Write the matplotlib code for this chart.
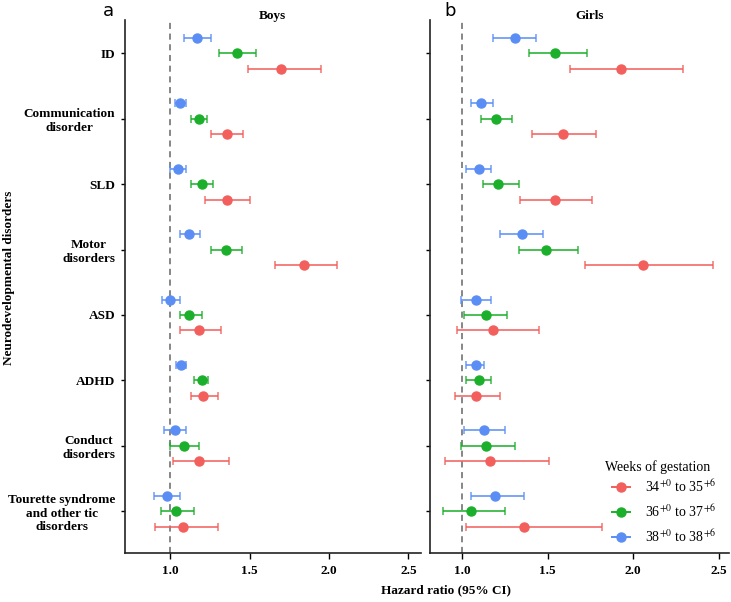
import matplotlib
matplotlib.use('Agg')
import matplotlib.pyplot as plt
from matplotlib.lines import Line2D

plt.rcParams['font.family'] = ['Liberation Serif', 'DejaVu Serif']
plt.rcParams['mathtext.fontset'] = 'stix'

categories = ['ID', 'Communication\ndisorder', 'SLD', 'Motor\ndisorders', 'ASD',
              'ADHD', 'Conduct\ndisorders', 'Tourette syndrome\nand other tic\ndisorders']
groups = ['34$^{+0}$ to 35$^{+6}$', '36$^{+0}$ to 37$^{+6}$', '38$^{+0}$ to 38$^{+6}$']
colors = ['#F25F5C', '#1CAF2B', '#5B8EF5']

# chłopcy (Boys)
boys_34 = [1.70, 1.36, 1.36, 1.84, 1.18, 1.21, 1.18, 1.08]
boys_34_lo = [1.49, 1.26, 1.22, 1.66, 1.06, 1.13, 1.02, 0.905]
boys_34_hi = [1.95, 1.46, 1.50, 2.05, 1.32, 1.30, 1.37, 1.30]
boys_36 = [1.42, 1.18, 1.20, 1.35, 1.12, 1.20, 1.09, 1.04]
boys_36_lo = [1.31, 1.13, 1.13, 1.26, 1.06, 1.15, 1.00, 0.94]
boys_36_hi = [1.54, 1.23, 1.27, 1.45, 1.20, 1.24, 1.18, 1.15]
boys_38 = [1.17, 1.06, 1.05, 1.12, 1.00, 1.07, 1.03, 0.98]
boys_38_lo = [1.09, 1.03, 1.00, 1.06, 0.95, 1.04, 0.96, 0.90]
boys_38_hi = [1.26, 1.10, 1.10, 1.19, 1.06, 1.10, 1.10, 1.06]

# dziewczynki (Girls)
girls_34 = [1.93, 1.59, 1.54, 2.06, 1.18, 1.08, 1.16, 1.36]
girls_34_lo = [1.63, 1.41, 1.34, 1.72, 0.97, 0.96, 0.90, 1.02]
girls_34_hi = [2.29, 1.78, 1.76, 2.47, 1.45, 1.22, 1.51, 1.82]
girls_36 = [1.54, 1.20, 1.21, 1.49, 1.14, 1.10, 1.14, 1.05]
girls_36_lo = [1.39, 1.11, 1.12, 1.33, 1.01, 1.02, 0.99, 0.89]
girls_36_hi = [1.73, 1.29, 1.33, 1.68, 1.26, 1.17, 1.31, 1.25]
girls_38 = [1.31, 1.11, 1.10, 1.35, 1.08, 1.08, 1.13, 1.19]
girls_38_lo = [1.18, 1.05, 1.02, 1.22, 0.99, 1.02, 1.01, 1.05]
girls_38_hi = [1.43, 1.18, 1.17, 1.47, 1.17, 1.13, 1.25, 1.36]

xticks = [1.0, 1.5, 2.0, 2.5]
offsets = [0.235, 0.0, -0.235]


def rysuj_panel(ax, series, xlim, labels=True):
    for (hr, lo, hi), off, col in zip(series, offsets, colors):
        y = [i + off for i in range(len(categories))]
        err = [[h - l for h, l in zip(hr, lo)], [u - h for h, u in zip(hr, hi)]]
        ax.errorbar(hr, y, xerr=err, fmt='none', ecolor=col, elinewidth=1.4,
                    capsize=3.2, capthick=1.2, alpha=0.8)
        ax.plot(hr, y, 'o', color=col, markersize=6.5, zorder=3)
    ax.axvline(1.0, color='#666666', linestyle=(0, (4, 3)), linewidth=1.1, zorder=0)
    ax.set_xlim(*xlim)
    ax.set_ylim(len(categories) - 1 + 0.64, -0.51)
    ax.set_xticks(xticks)
    ax.set_xticklabels([f'{t:.1f}' for t in xticks], fontweight='bold', fontsize=9.5)
    ax.set_yticks(range(len(categories)))
    if labels:
        ax.set_yticklabels(categories, fontweight='bold', fontsize=9.5,
                           multialignment='center')
    else:
        ax.set_yticklabels([])
    for s in ['top', 'right']:
        ax.spines[s].set_visible(False)
    for s in ['left', 'bottom']:
        ax.spines[s].set_linewidth(1.2)
        ax.spines[s].set_color('#222222')
    ax.tick_params(axis='x', length=4, width=1, pad=5)
    ax.tick_params(axis='y', length=3, width=1, pad=4)


fig = plt.figure(figsize=(7.31, 6.02), dpi=100)
ax1 = fig.add_axes([0.171, 0.0814, 0.405, 0.8854])
ax2 = fig.add_axes([0.588, 0.0814, 0.409, 0.8854])

rysuj_panel(ax1, [(boys_34, boys_34_lo, boys_34_hi),
                  (boys_36, boys_36_lo, boys_36_hi),
                  (boys_38, boys_38_lo, boys_38_hi)], (0.716, 2.58))
rysuj_panel(ax2, [(girls_34, girls_34_lo, girls_34_hi),
                  (girls_36, girls_36_lo, girls_36_hi),
                  (girls_38, girls_38_lo, girls_38_hi)], (0.81, 2.56), labels=False)

fig.text(272 / 731, 1 - 16 / 602, 'Boys', ha='center', va='center', fontweight='bold', fontsize=9.5)
fig.text(590 / 731, 1 - 16 / 602, 'Girls', ha='center', va='center', fontweight='bold', fontsize=9.5)
fig.text(108 / 731, 1 - 11 / 602, 'a', ha='center', va='center', family='DejaVu Sans', fontsize=13)
fig.text(450 / 731, 1 - 11 / 602, 'b', ha='center', va='center', family='DejaVu Sans', fontsize=13)
fig.text(446 / 731, 1 - 590 / 602, 'Hazard ratio (95% CI)', ha='center', va='center',
         fontweight='bold', fontsize=9.5)
fig.text(9 / 731, 1 - 278 / 602, 'Neurodevelopmental disorders', ha='center', va='center',
         rotation=90, fontweight='bold', fontsize=9.5)

# legenda - tytuł osobno, żeby ustawić odstęp
fig.text(658 / 731, 1 - 467 / 602, 'Weeks of gestation', ha='center', va='center', fontsize=10)
uchwyty = [Line2D([0], [0], color=c, marker='o', markersize=6.5, linewidth=1.4) for c in colors]
leg = ax2.legend(uchwyty, groups, loc='upper left',
                 bbox_to_anchor=(612 / 731, 1 - 478 / 602), bbox_transform=fig.transFigure,
                 frameon=False, fontsize=10, handlelength=1.3, borderpad=0, borderaxespad=0,
                 labelspacing=0.6, handletextpad=1.08)

fig.savefig('out.png', dpi=100)
